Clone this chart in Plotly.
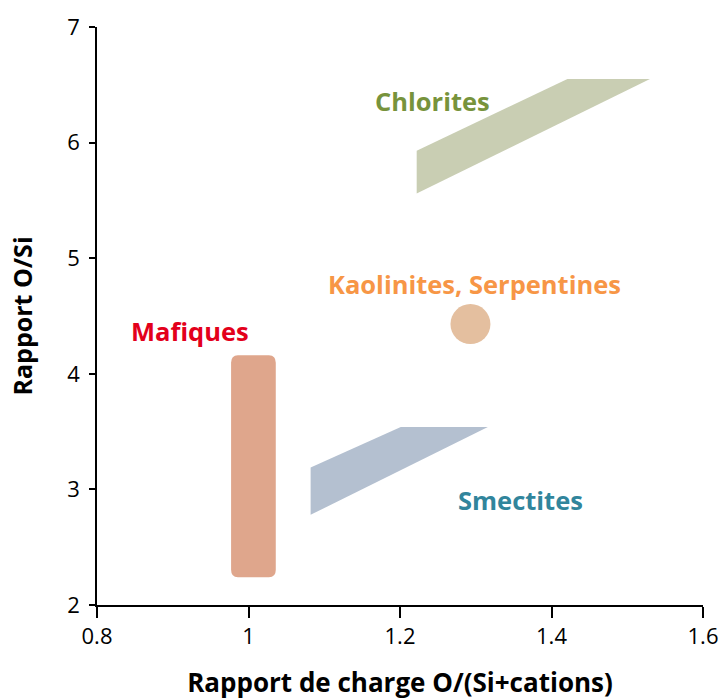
import plotly.graph_objects as go

# Mineral domains in (charge ratio O/(Si+cations), O/Si ratio) space
chlorite_x = [1.222, 1.222, 1.421, 1.530]
chlorite_y = [5.56, 5.93, 6.55, 6.55]

smectite_x = [1.082, 1.082, 1.201, 1.316]
smectite_y = [2.78, 3.19, 3.54, 3.54]

mafic_x = [0.977, 1.036]          # rectangle x extent
mafic_y = [2.24, 4.16]            # rectangle y extent

kaolinite_x = [1.293]
kaolinite_y = [4.43]

label_text = ["Chlorites", "Kaolinites, Serpentines", "Mafiques", "Smectites"]
label_x = [1.243, 1.299, 0.923, 1.359]
label_y = [6.36, 4.78, 4.37, 2.91]
label_color = ["#77933C", "#F79646", "#E3001B", "#31859C"]

x_ticks = [0.8, 1.0, 1.2, 1.4, 1.6]
x_ticktext = ["0.8", "1", "1.2", "1.4", "1.6"]
y_ticks = [2, 3, 4, 5, 6, 7]

FONT = "Open Sans"

fig = go.Figure()

# Chlorites band
fig.add_trace(go.Scatter(
    x=chlorite_x + [chlorite_x[0]], y=chlorite_y + [chlorite_y[0]],
    mode="lines", fill="toself", fillcolor="#C9CEB3",
    line=dict(width=0), hoverinfo="skip", showlegend=False))

# Smectites band
fig.add_trace(go.Scatter(
    x=smectite_x + [smectite_x[0]], y=smectite_y + [smectite_y[0]],
    mode="lines", fill="toself", fillcolor="#B4C0D0",
    line=dict(width=0), hoverinfo="skip", showlegend=False))

# Kaolinites / serpentines point
fig.add_trace(go.Scatter(
    x=kaolinite_x, y=kaolinite_y, mode="markers",
    marker=dict(size=40, color="#E4BF9F", line=dict(width=0)),
    hoverinfo="skip", showlegend=False))

# Mafic minerals: rounded rectangle
x0, x1 = mafic_x
y0, y1 = mafic_y
rx, ry = 0.009, 0.065
path = (f"M {x0+rx},{y0} L {x1-rx},{y0} Q {x1},{y0} {x1},{y0+ry} "
        f"L {x1},{y1-ry} Q {x1},{y1} {x1-rx},{y1} "
        f"L {x0+rx},{y1} Q {x0},{y1} {x0},{y1-ry} "
        f"L {x0},{y0+ry} Q {x0},{y0} {x0+rx},{y0} Z")
fig.add_shape(type="path", path=path, xref="x", yref="y",
              fillcolor="#DFA68C", line=dict(width=0), layer="above")

for t, x, y, c in zip(label_text, label_x, label_y, label_color):
    fig.add_annotation(x=x, y=y, text=f"<b>{t}</b>", showarrow=False,
                       font=dict(family=FONT, size=25.5, color=c),
                       xanchor="center", yanchor="middle")

fig.update_layout(
    width=719, height=700,
    margin=dict(l=97, r=16, t=27, b=95),
    paper_bgcolor="white", plot_bgcolor="white",
    font=dict(family=FONT, size=22, color="black"),
    xaxis=dict(range=[0.8, 1.6], tickvals=x_ticks, ticktext=x_ticktext,
               automargin=False,
               showgrid=False, zeroline=False, showline=True,
               linecolor="black", linewidth=1.5,
               ticks="outside", ticklen=11, tickwidth=1.5, tickcolor="black",
               tickfont=dict(size=22),
               title=dict(text="<b>Rapport de charge O/(Si+cations)</b>",
                          font=dict(size=26), standoff=26)),
    yaxis=dict(range=[2, 7], tickvals=y_ticks,
               automargin=False,
               showgrid=False, zeroline=False, showline=True,
               linecolor="black", linewidth=1.5,
               ticks="outside", ticklen=6, tickwidth=1.5, tickcolor="black",
               ticklabelstandoff=5,
               tickfont=dict(size=22),
               title=dict(text="<b>Rapport O/Si</b>",
                          font=dict(size=25), standoff=28)),
)

fig.write_html("out.html")
